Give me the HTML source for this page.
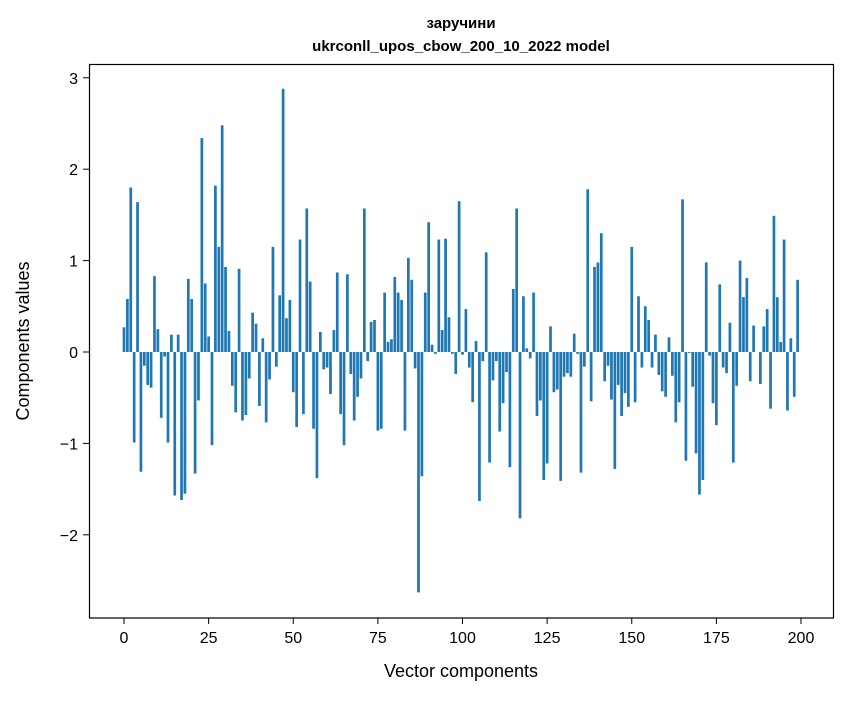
<!DOCTYPE html>
<html><head><meta charset="utf-8"><style>
body{margin:0;background:#fff;}
text{font-family:"Liberation Sans","DejaVu Sans",sans-serif;fill:#000;}
</style></head><body>
<svg id="chart" width="847" height="696" xmlns="http://www.w3.org/2000/svg">
<rect x="0" y="0" width="847" height="696" fill="#fff"/>
<text x="461" y="28" text-anchor="middle" font-size="15" font-weight="bold">заручини</text>
<text x="461" y="51" text-anchor="middle" font-size="15" font-weight="bold">ukrconll_upos_cbow_200_10_2022 model</text>
<g id="bars"></g>
<g id="xticks"></g>
<g id="yticks"></g>
<rect x="89.5" y="64.5" width="744" height="553.5" fill="none" stroke="#000" stroke-width="1.2"/>
<text x="461" y="677" text-anchor="middle" font-size="18">Vector components</text>
<text transform="translate(29,341) rotate(-90)" text-anchor="middle" font-size="18">Components values</text>
</svg>
<script>
const values = [0.27,0.58,1.80,-0.99,1.64,-1.31,-0.15,-0.36,-0.39,0.83,
0.25,-0.72,-0.05,-0.99,0.19,-1.57,0.19,-1.62,-1.55,0.80,
0.58,-1.33,-0.53,2.34,0.75,0.17,-1.02,1.82,1.15,2.48,
0.93,0.23,-0.37,-0.66,0.91,-0.75,-0.69,-0.29,0.43,0.31,
-0.59,0.15,-0.77,-0.30,1.15,-0.16,0.62,2.88,0.37,0.57,
-0.44,-0.82,1.23,-0.68,1.57,0.77,-0.84,-1.38,0.22,-0.19,
-0.17,-0.46,0.24,0.87,-0.68,-1.02,0.85,-0.24,-0.75,-0.49,
-0.29,1.57,-0.10,0.33,0.35,-0.86,-0.84,0.65,0.11,0.14,
0.82,0.65,0.57,-0.86,1.03,0.79,-0.18,-2.63,-1.36,0.65,
1.42,0.08,-0.02,1.23,0.24,1.24,0.38,-0.02,-0.24,1.65,
-0.03,0.47,-0.17,-0.55,0.12,-1.63,-0.10,1.09,-1.21,-0.31,
-0.10,-0.87,-0.56,-0.22,-1.26,0.69,1.57,-1.82,0.61,0.04,
-0.07,0.65,-0.70,-0.53,-1.40,-1.22,0.28,-0.44,-0.41,-1.41,
-0.27,-0.23,-0.27,0.20,-0.02,-1.32,-0.16,1.78,-0.54,0.93,
0.98,1.30,-0.32,-0.15,-0.52,-1.28,-0.36,-0.70,-0.45,-0.60,
1.15,-0.55,0.61,-0.17,0.50,0.35,-0.17,0.19,-0.25,-0.43,
-0.49,0.16,-0.26,-0.77,-0.55,1.67,-1.19,-0.01,-0.38,-1.11,
-1.56,-1.40,0.98,-0.04,-0.56,-0.80,0.74,-0.17,-0.23,0.32,
-1.21,-0.37,1.00,0.60,0.81,-0.32,0.29,0.00,-0.35,0.28,
0.47,-0.62,1.49,0.60,0.11,1.23,-0.64,0.15,-0.49,0.79];
const xTicks = [0,25,50,75,100,125,150,175,200];
const yTicks = [-2,-1,0,1,2,3];
const yTickLabels = ["\u22122","\u22121","0","1","2","3"];

const NS="http://www.w3.org/2000/svg";
function xs(v){return 124 + v*3.385;}
function ys(v){return 352 - v*91.4;}
const bw = 0.8;
const gb=document.getElementById('bars');
values.forEach((v,i)=>{
  const r=document.createElementNS(NS,'rect');
  const y0=ys(Math.max(v,0)), y1=ys(Math.min(v,0));
  r.setAttribute('x',xs(i-bw/2));
  r.setAttribute('y',y0);
  r.setAttribute('width',xs(bw)-xs(0));
  r.setAttribute('height',Math.max(y1-y0,0));
  r.setAttribute('fill','#1f77b4');
  
  
  gb.appendChild(r);
});
const gx=document.getElementById('xticks');
xTicks.forEach(t=>{
  const l=document.createElementNS(NS,'line');
  l.setAttribute('x1',xs(t));l.setAttribute('x2',xs(t));
  l.setAttribute('y1',618);l.setAttribute('y2',624);
  l.setAttribute('stroke','#000');l.setAttribute('stroke-width','1');
  
  
  gx.appendChild(l);
  const tx=document.createElementNS(NS,'text');
  tx.setAttribute('x',xs(t));tx.setAttribute('y',643);
  tx.setAttribute('text-anchor','middle');tx.setAttribute('font-size','16');
  tx.textContent=t;
  
  
  gx.appendChild(tx);
});
const gy=document.getElementById('yticks');
yTicks.forEach((t,i)=>{
  const l=document.createElementNS(NS,'line');
  l.setAttribute('x1',83);l.setAttribute('x2',89.5);
  l.setAttribute('y1',ys(t));l.setAttribute('y2',ys(t));
  l.setAttribute('stroke','#000');l.setAttribute('stroke-width','1');
  
  
  gy.appendChild(l);
  const tx=document.createElementNS(NS,'text');
  tx.setAttribute('x',78);tx.setAttribute('y',ys(t)+6);
  tx.setAttribute('text-anchor','end');tx.setAttribute('font-size','16');
  tx.textContent=yTickLabels[i];
  
  
  gy.appendChild(tx);
});
</script>
</body></html>
